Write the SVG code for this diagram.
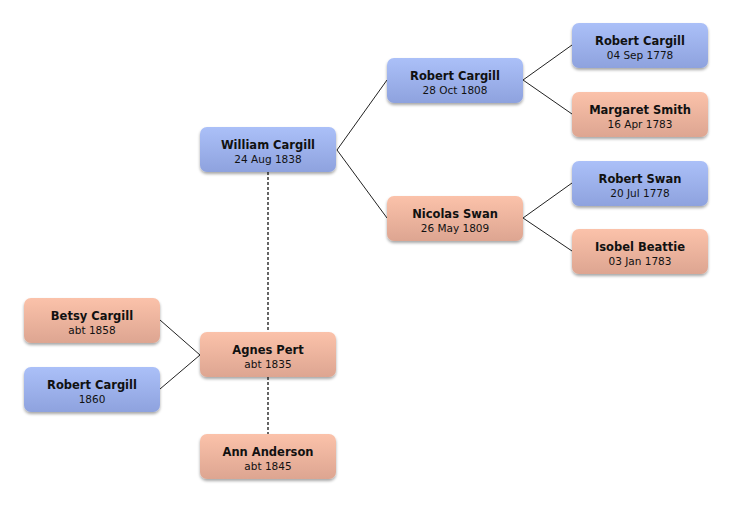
<svg xmlns="http://www.w3.org/2000/svg" width="732" height="505" viewBox="0 0 732 505">
<defs>
<linearGradient id="gb" x1="0" y1="0" x2="0" y2="1">
<stop offset="0" stop-color="#abc0f8"/>
<stop offset="1" stop-color="#8ea2de"/>
</linearGradient>
<linearGradient id="gp" x1="0" y1="0" x2="0" y2="1">
<stop offset="0" stop-color="#fbc2aa"/>
<stop offset="1" stop-color="#dda591"/>
</linearGradient>
<filter id="sh" x="-10%" y="-15%" width="120%" height="140%">
<feGaussianBlur in="SourceAlpha" stdDeviation="1.8"/>
<feOffset dx="0" dy="1.5" result="b"/>
<feComponentTransfer><feFuncA type="linear" slope="0.35"/></feComponentTransfer>
<feMerge><feMergeNode/><feMergeNode in="SourceGraphic"/></feMerge>
</filter>
</defs>
<style>
.m rect{fill:url(#gb);filter:url(#sh)}
.f rect{fill:url(#gp);filter:url(#sh)}
.n{font-family:"DejaVu Sans","Liberation Sans",sans-serif;font-weight:bold;font-size:11.5px;fill:#111;text-anchor:middle}
.d{font-family:"DejaVu Sans","Liberation Sans",sans-serif;font-size:10.5px;fill:#111;text-anchor:middle}
.c line,.c polyline{stroke:#222;stroke-width:1;fill:none}
.c .ds{stroke-dasharray:3,2;stroke-width:1.5;stroke:#333}
</style>
<rect width="732" height="505" fill="#fff"/>
<g class="c" id="connectors">
<polyline points="387,80 337,150 387,218"/>
<polyline points="572,45 523,80 572,114"/>
<polyline points="572,183 523,218 572,251"/>
<polyline points="160,320 200,355 160,389"/>
<line class="ds" x1="268" y1="172" x2="268" y2="332"/>
<line class="ds" x1="268" y1="377" x2="268" y2="434"/>
</g>
<g id="william" class="m"><rect x="200" y="127" width="136" height="45" rx="7"/><text class="n" x="268" y="149">William Cargill</text><text class="d" x="268" y="163">24 Aug 1838</text></g>
<g id="robert1808" class="m"><rect x="387" y="58" width="136" height="45" rx="7"/><text class="n" x="455" y="80">Robert Cargill</text><text class="d" x="455" y="94">28 Oct 1808</text></g>
<g id="nicolas" class="f"><rect x="387" y="196" width="136" height="45" rx="7"/><text class="n" x="455" y="218">Nicolas Swan</text><text class="d" x="455" y="232">26 May 1809</text></g>
<g id="robert1778" class="m"><rect x="572" y="23" width="136" height="45" rx="7"/><text class="n" x="640" y="45">Robert Cargill</text><text class="d" x="640" y="59">04 Sep 1778</text></g>
<g id="margaret" class="f"><rect x="572" y="92" width="136" height="45" rx="7"/><text class="n" x="640" y="114">Margaret Smith</text><text class="d" x="640" y="128">16 Apr 1783</text></g>
<g id="robertswan" class="m"><rect x="572" y="161" width="136" height="45" rx="7"/><text class="n" x="640" y="183">Robert Swan</text><text class="d" x="640" y="197">20 Jul 1778</text></g>
<g id="isobel" class="f"><rect x="572" y="229" width="136" height="45" rx="7"/><text class="n" x="640" y="251">Isobel Beattie</text><text class="d" x="640" y="265">03 Jan 1783</text></g>
<g id="agnes" class="f"><rect x="200" y="332" width="136" height="45" rx="7"/><text class="n" x="268" y="354">Agnes Pert</text><text class="d" x="268" y="368">abt 1835</text></g>
<g id="ann" class="f"><rect x="200" y="434" width="136" height="45" rx="7"/><text class="n" x="268" y="456">Ann Anderson</text><text class="d" x="268" y="470">abt 1845</text></g>
<g id="betsy" class="f"><rect x="24" y="298" width="136" height="45" rx="7"/><text class="n" x="92" y="320">Betsy Cargill</text><text class="d" x="92" y="334">abt 1858</text></g>
<g id="robert1860" class="m"><rect x="24" y="367" width="136" height="45" rx="7"/><text class="n" x="92" y="389">Robert Cargill</text><text class="d" x="92" y="403">1860</text></g>
</svg>
